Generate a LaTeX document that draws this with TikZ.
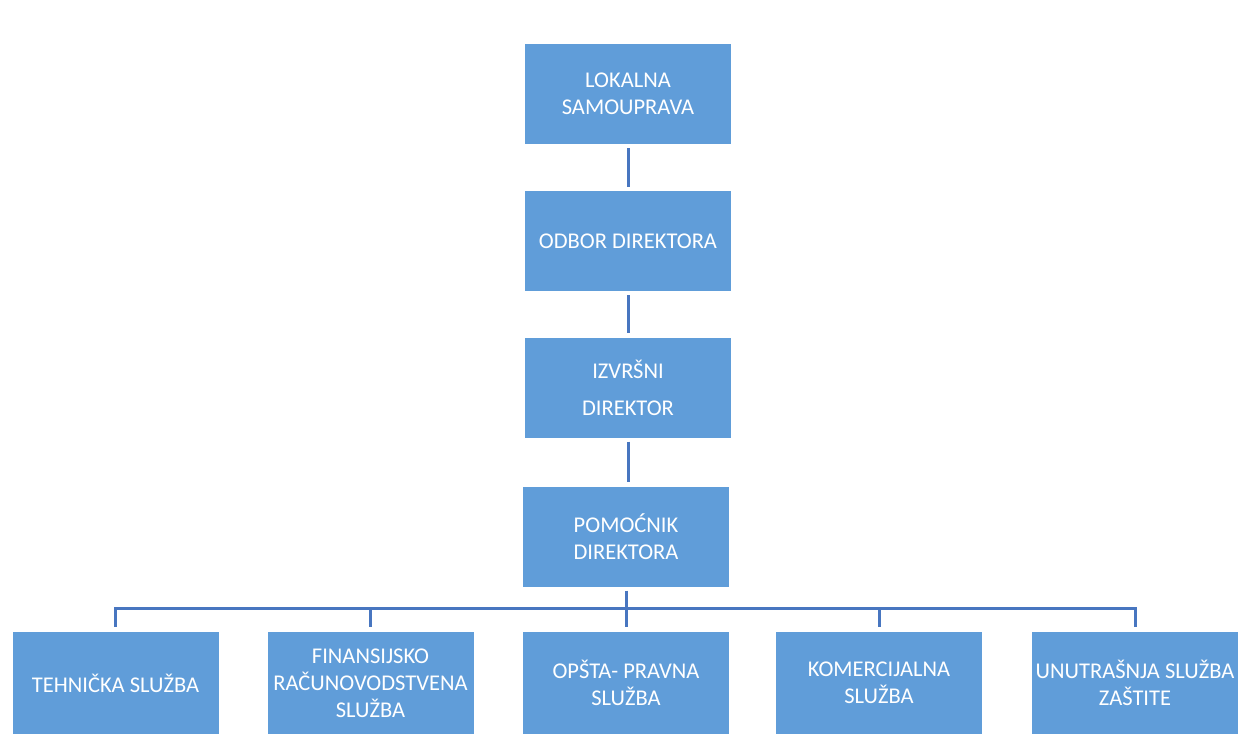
\documentclass[tikz,border=0pt]{standalone}
\usepackage{fontspec}
\setmainfont{Carlito}
\definecolor{boxblue}{RGB}{96,157,217}
\definecolor{lineblue}{RGB}{72,118,192}
\begin{document}
\begin{tikzpicture}[x=1pt,y=-1pt,
  box/.style={fill=boxblue, draw=none, minimum width=206pt, minimum height=100pt,
    inner sep=0pt, align=center, text=white, font=\fontsize{22.5}{27}\selectfont},
  lowbox/.style={box, minimum height=102pt},
  conn/.style={draw=lineblue, line width=3pt}]
\useasboundingbox[fill=white] (0,0) rectangle (1243,734);
\node[box] (L) at (628,94) {LOKALNA\\SAMOUPRAVA};
\node[box] (O) at (628,241) {ODBOR DIREKTORA};
\node[box] (I) at (628,387.5) {IZVRŠNI\\[10pt]DIREKTOR};
\node[box] (P) at (626,536.5) {POMOĆNIK\\DIREKTORA};
\node[lowbox] (T) at (115.5,683) {TEHNIČKA SLUŽBA};
\node[lowbox] (F) at (370.5,683) {FINANSIJSKO\\RAČUNOVODSTVENA\\SLUŽBA};
\node[lowbox] (Op) at (626,683) {OPŠTA- PRAVNA\\SLUŽBA};
\node[lowbox] (K) at (879,683) {KOMERCIJALNA\\SLUŽBA};
\node[lowbox] (U) at (1135,683) {UNUTRAŠNJA SLUŽBA\\ZAŠTITE};
\coordinate (bus) at (626,608);
\draw[conn] ([yshift=-4pt]L.south) -- ([yshift=4pt]O.north);
\draw[conn] ([yshift=-4pt]O.south) -- ([yshift=4pt]I.north);
\draw[conn] ([yshift=-4pt]I.south) -- ([yshift=4pt]I.south |- P.north);
\draw[conn] ([yshift=-4pt]P.south) -- ([yshift=5pt]Op.north);
\draw[conn] ([yshift=5pt]T.north) -- (T.north |- bus) -- (U.north |- bus) -- ([yshift=5pt]U.north);
\draw[conn] ([yshift=5pt]F.north) -- (F.north |- bus);
\draw[conn] ([yshift=5pt]K.north) -- (K.north |- bus);
\end{tikzpicture}
\end{document}
